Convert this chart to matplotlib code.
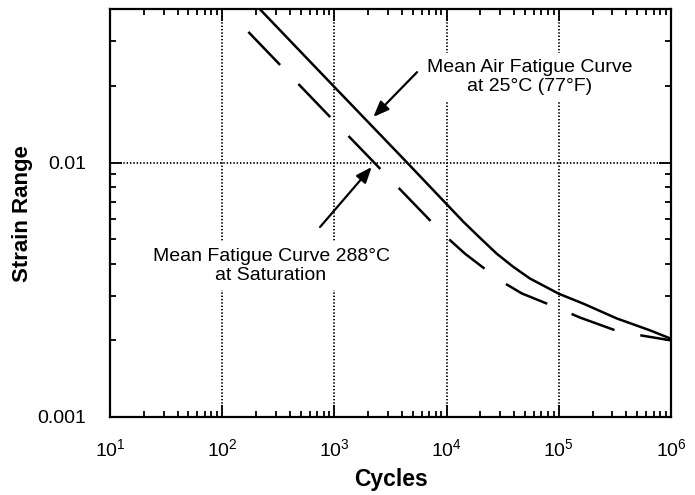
import math
import matplotlib
matplotlib.use("Agg")
import matplotlib.pyplot as plt
from matplotlib.ticker import FixedLocator, LogLocator, NullFormatter, FuncFormatter

plt.rcParams['font.family'] = ['Liberation Sans', 'DejaVu Sans']
plt.rcParams['mathtext.default'] = 'regular'
plt.rcParams['lines.scale_dashes'] = False

# Mean air fatigue curve at 25 C (solid)
air_cycles = [217, 1000, 4436, 10000, 14100, 19900, 28000, 39300, 55300,
              100000, 165000, 328000, 650000, 1000000]
air_strain = [0.0400, 0.0198, 0.0100, 0.00686, 0.00585, 0.00505, 0.00438, 0.00389, 0.00350,
              0.00305, 0.00279, 0.00244, 0.00219, 0.00203]

# Mean fatigue curve at 288 C, saturation (dashed)
sat_cycles = [171, 1000, 9350, 14600, 29900, 46700, 100000, 154000, 328000, 512000, 1000000]
sat_strain = [0.0326, 0.0145, 0.00523, 0.00438, 0.00344, 0.00306, 0.00267, 0.00246,
              0.00218, 0.00210, 0.00200]

x_major = [1e1, 1e2, 1e3, 1e4, 1e5, 1e6]
y_major = [0.001, 0.01]
y_major_labels = ["0.001", "0.01"]

fig = plt.figure(figsize=(6.95, 4.95), dpi=100)
ax = fig.add_axes([0.1583, 0.1576, 0.8072, 0.8236])
ax.set_xscale('log')
ax.set_yscale('log')
ax.set_xlim(10, 1e6)
ax.set_ylim(0.001, 0.04)

ax.plot(air_cycles, air_strain, color='black', lw=1.8, solid_capstyle='butt')
ax.plot(sat_cycles, sat_strain, color='black', lw=1.8, dashes=(33, 19),
        dash_capstyle='butt')

# axes styling
for sp in ax.spines.values():
    sp.set_linewidth(1.6)

ax.xaxis.set_major_locator(FixedLocator(x_major))
ax.xaxis.set_minor_locator(LogLocator(base=10, subs=range(2, 10)))
ax.xaxis.set_major_formatter(FuncFormatter(lambda v, p: r'$10^{%d}$' % round(math.log10(v))))
ax.xaxis.set_minor_formatter(NullFormatter())

ax.yaxis.set_major_locator(FixedLocator(y_major))
ax.yaxis.set_minor_locator(LogLocator(base=10, subs=range(2, 10)))
ax.yaxis.set_major_formatter(FuncFormatter(
    lambda v, p: y_major_labels[y_major.index(v)] if v in y_major else ''))
ax.yaxis.set_minor_formatter(NullFormatter())

ax.tick_params(which='both', direction='in', top=True, right=True, width=1.3, labelsize=14)
ax.tick_params(which='major', length=8.5)
ax.tick_params(which='minor', length=4.5)
ax.tick_params(axis='x', which='major', pad=15)
ax.tick_params(axis='y', which='major', pad=17)

ax.grid(True, which='major', color='black', lw=1.3, linestyle=(0, (1, 1.4)))

ax.set_xlabel('Cycles', fontsize=16.5, fontweight='bold')
ax.set_ylabel('Strain Range', fontsize=16, fontweight='bold')
ax.xaxis.set_label_coords(0.5, -0.125)
ax.yaxis.set_label_coords(-0.138, 0.5)

# annotations
ax.text(0.7487, 0.834, 'Mean Air Fatigue Curve\nat 25°C (77°F)', transform=ax.transAxes,
        ha='center', va='center', fontsize=14, linespacing=1.2,
        bbox=dict(boxstyle='square,pad=0.3', fc='white', ec='none'))
ax.text(0.287, 0.370, 'Mean Fatigue Curve 288°C\nat Saturation', transform=ax.transAxes,
        ha='center', va='center', fontsize=14, linespacing=1.2,
        bbox=dict(boxstyle='square,pad=0.3', fc='white', ec='none'))

arrow = dict(arrowstyle='-|>,head_length=0.95,head_width=0.38', color='black', lw=1.6,
             shrinkA=0, shrinkB=0)
ax.annotate('', xy=(2223, 0.0151), xytext=(5450, 0.02265), arrowprops=arrow)
ax.annotate('', xy=(2148, 0.0096), xytext=(745, 0.00558), arrowprops=arrow)

fig.savefig('out.png', dpi=100)
